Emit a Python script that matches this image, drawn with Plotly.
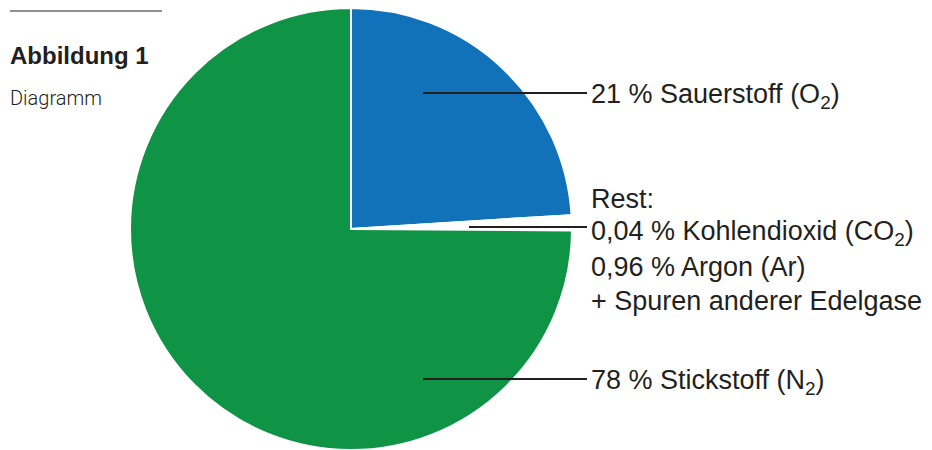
import plotly.graph_objects as go

# Data (slice shares as drawn in the picture; label texts as printed)
slice_names = ["Sauerstoff", "Rest", "Stickstoff"]
slice_values = [24.0, 1.1, 74.9]
slice_colors = ["#1172BA", "#FFFFFF", "#0F9345"]

label_o2 = "21 % Sauerstoff (O<sub>2</sub>)"
label_rest = ["Rest:", "0,04 % Kohlendioxid (CO<sub>2</sub>)", "0,96 % Argon (Ar)", "+ Spuren anderer Edelgase"]
label_n2 = "78 % Stickstoff (N<sub>2</sub>)"

W, H = 932, 450
cx, cy, r = 351, 229, 221
ink = "#231F20"
FONT = "Liberation Sans, Arial, sans-serif"

def px(x):
    return x / W

def py(y):
    return 1 - y / H

fig = go.Figure(go.Pie(
    labels=slice_names,
    values=slice_values,
    sort=False,
    direction="clockwise",
    rotation=0,
    marker=dict(colors=slice_colors, line=dict(color="white", width=2)),
    textinfo="none",
    hoverinfo="label+value",
    domain=dict(x=[px(cx - r), px(cx + r)], y=[py(cy + r), py(cy - r)]),
    showlegend=False,
))

shapes = []
annotations = []

def leader(x0, x1, y):
    shapes.append(dict(type="line", xref="paper", yref="paper",
                       x0=px(x0), x1=px(x1), y0=py(y), y1=py(y),
                       line=dict(color=ink, width=2)))

def text(t, x, y, size=27, weight=400, family=FONT):
    annotations.append(dict(text=t, xref="paper", yref="paper", x=px(x), y=py(y),
                            xanchor="left", yanchor="middle", showarrow=False,
                            font=dict(family=family, size=size, color=ink, weight=weight)))

leader(423, 587, 93)
text(label_o2, 589, 96)

leader(469, 587, 227)
for i, t in enumerate(label_rest):
    text(t, 589, 199 + 34 * i)

leader(423, 587, 379)
text(label_n2, 589, 382)

# Figure caption
shapes.append(dict(type="line", xref="paper", yref="paper",
                   x0=px(10), x1=px(162), y0=py(11), y1=py(11),
                   line=dict(color=ink, width=1)))
text("Abbildung 1", 8, 55, size=24, weight=700)
text("Diagramm", 8, 98, size=20, weight=300, family="Roboto")

fig.update_layout(
    width=W, height=H,
    margin=dict(l=0, r=0, t=0, b=0),
    paper_bgcolor="white", plot_bgcolor="white",
    shapes=shapes, annotations=annotations,
)

fig.write_html("out.html")
